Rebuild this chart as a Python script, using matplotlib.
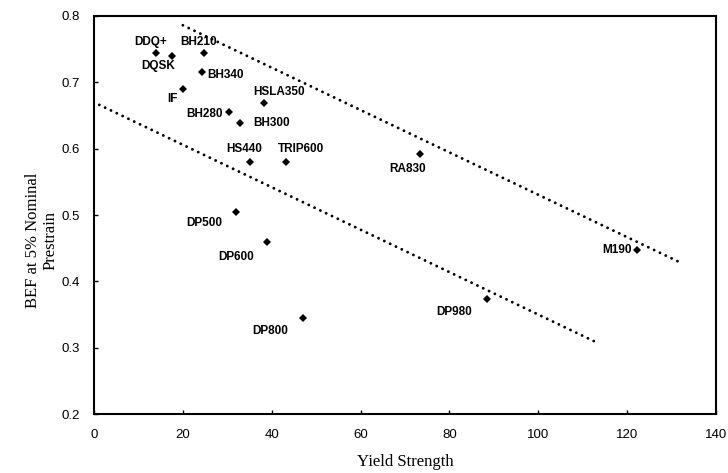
import numpy as np
import matplotlib
matplotlib.use('Agg')
import matplotlib.pyplot as plt

# steel grades: yield strength vs BEF at 5% prestrain
grades = ['DDQ+', 'DQSK', 'BH210', 'BH340', 'IF', 'HSLA350', 'BH280', 'BH300',
          'HS440', 'TRIP600', 'DP500', 'DP600', 'DP800', 'DP980', 'RA830', 'M190']
yield_strength = [14.0, 17.6, 24.7, 24.3, 20.0, 38.3, 30.3, 32.8,
                  35.0, 43.2, 32.0, 38.9, 47.1, 88.5, 73.3, 122.2]
bef = [0.744, 0.739, 0.744, 0.715, 0.690, 0.669, 0.656, 0.639,
       0.580, 0.580, 0.505, 0.460, 0.344, 0.373, 0.592, 0.447]

# label offsets (points) and alignment for each grade
label_pos = {
    'DDQ+':    (-4, 8, 'center'),
    'DQSK':    (-10, -7, 'center'),
    'BH210':   (-4, 8, 'center'),
    'BH340':   (4, -2, 'left'),
    'IF':      (-4, -7, 'right'),
    'HSLA350': (11, 8, 'center'),
    'BH280':   (-4, -2, 'right'),
    'BH300':   (10, 0, 'left'),
    'HS440':   (-4, 9, 'center'),
    'TRIP600': (11, 9, 'center'),
    'DP500':   (-23, -8, 'center'),
    'DP600':   (-22, -11, 'center'),
    'DP800':   (-24, -9, 'center'),
    'DP980':   (-24, -9, 'center'),
    'RA830':   (-9, -11, 'center'),
    'M190':    (-4, 0, 'right'),
}

# upper and lower bounding lines
upper_x = [20.0, 132.4]
upper_y = [0.786, 0.427]
lower_x = [1.2, 113.4]
lower_y = [0.666, 0.307]

fig = plt.figure(figsize=(7.28, 4.73), dpi=100)
ax = fig.add_axes([94/728, 1 - 414/473, (716 - 94)/728, (414 - 16)/473])

dots = dict(color='black', lw=2.1, linestyle=(0, (0.01, 2.2)),
            dash_capstyle='round')
ax.plot(upper_x, upper_y, **dots)
ax.plot(lower_x, lower_y, **dots)

ax.plot(yield_strength, bef, 'D', color='black', ms=3.6, mew=0)

for name, xv, yv in zip(grades, yield_strength, bef):
    dx, dy, ha = label_pos[name]
    ax.annotate(name, (xv, yv), xytext=(dx, dy), textcoords='offset points',
                ha=ha, va='center', fontsize=8.5, fontweight='bold',
                family='Liberation Sans')

ax.set_xlim(0, 140)
ax.set_ylim(0.2, 0.8)
ax.set_xticks(np.arange(0, 141, 20))
ax.set_yticks(np.arange(0.2, 0.81, 0.1))
ax.set_yticklabels(['0.2', '0.3', '0.4', '0.5', '0.6', '0.7', '0.8'])
ax.tick_params(direction='in', length=3, width=1, top=False, right=False,
               labelsize=9.5)
ax.tick_params(axis='x', pad=11)
ax.tick_params(axis='y', pad=10)
for lbl in ax.get_xticklabels() + ax.get_yticklabels():
    lbl.set_family('Liberation Sans')
for sp in ax.spines.values():
    sp.set_linewidth(1.5)

fig.text(405/728, 1 - 462/473, 'Yield Strength', ha='center', va='center',
         fontsize=12, family='Liberation Serif')
fig.text(42/728, 1 - 240/473, 'BEF at 5% Nominal\nPrestrain', ha='center',
         va='center', rotation=90, multialignment='center', fontsize=12,
         family='Liberation Serif', linespacing=1.15)

fig.savefig('out.png', dpi=100)
